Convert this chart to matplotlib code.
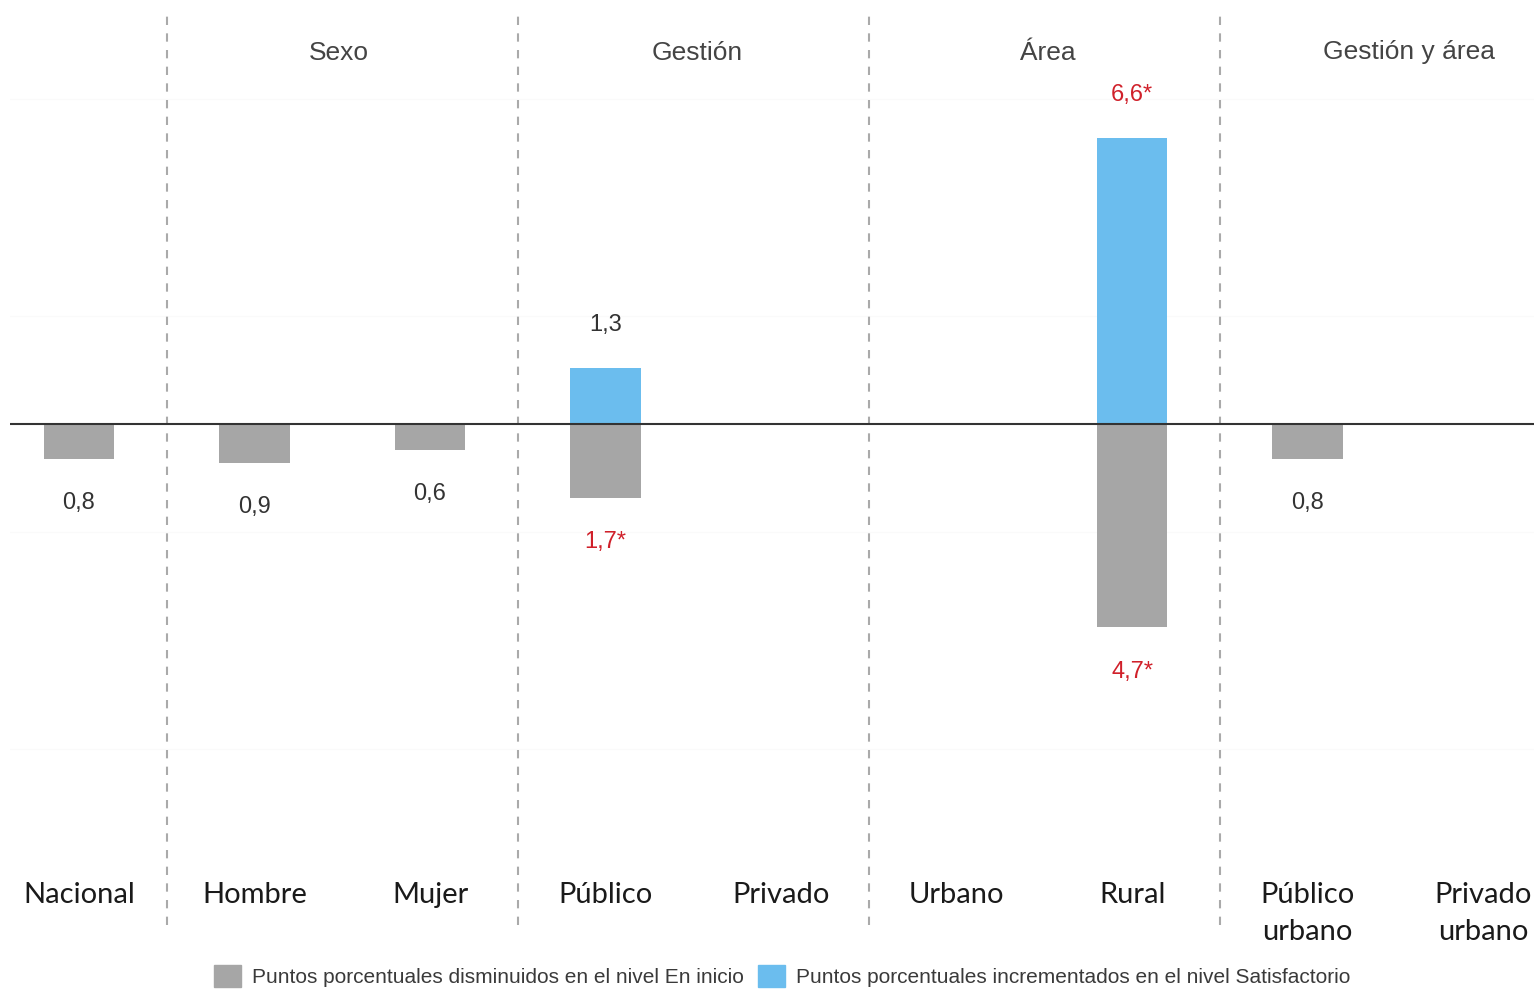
import numpy as np
import matplotlib.pyplot as plt
from matplotlib.patches import Patch

# ---------- data ----------
categories = ["Nacional", "Hombre", "Mujer", "Público", "Privado",
              "Urbano", "Rural", "Público\nurbano", "Privado\nurbano"]
en_inicio = [0.8, 0.9, 0.6, 1.7, np.nan, np.nan, 4.7, 0.8, np.nan]        # points decreased
satisfactorio = [np.nan, np.nan, np.nan, 1.3, np.nan, np.nan, 6.6, np.nan, np.nan]  # points increased
sig_inicio = [False, False, False, True, False, False, True, False, False]
sig_satisf = [False, False, False, False, False, False, True, False, False]
groups = ["Sexo", "Gestión", "Área", "Gestión y área"]
group_centers = [1.48, 3.52, 5.52, 7.58]
separators = [0.5, 2.5, 4.5, 6.5]
legend_labels = ["Puntos porcentuales disminuidos en el nivel En inicio",
                 "Puntos porcentuales incrementados en el nivel Satisfactorio"]

GREY = "#a6a6a6"
BLUE = "#6bbdee"
RED = "#d0202a"
DARK = "#333333"


def fmt(v, sig):
    s = f"{v:.1f}".replace(".", ",")
    return s + "*" if sig else s


# ---------- plotting ----------
fig = plt.figure(figsize=(15.34, 9.89), dpi=100)
ax = fig.add_axes([10 / 1534, 1 - 860 / 989, 1 - 10 / 1534, 850 / 989])

x = np.arange(len(categories))
neg = -np.array(en_inicio)
pos = np.array(satisfactorio)

ax.bar(x, neg, width=0.4, color=GREY, zorder=2)
ax.bar(x, pos, width=0.4, color=BLUE, zorder=2)
ax.axhline(0, color=DARK, lw=1.5, zorder=3)

# faint minor grid
for gy in [-7.5, -2.5, 2.5, 7.5]:
    ax.axhline(gy, color="#fafafa", lw=1, zorder=0)

# value labels
for i in range(len(categories)):
    if not np.isnan(en_inicio[i]):
        ax.annotate(fmt(en_inicio[i], sig_inicio[i]), (x[i], neg[i]),
                    xytext=(0, -32), textcoords="offset points",
                    ha="center", va="center", fontsize=17,
                    family="Liberation Sans",
                    color=RED if sig_inicio[i] else DARK)
    if not np.isnan(satisfactorio[i]):
        ax.annotate(fmt(satisfactorio[i], sig_satisf[i]), (x[i], pos[i]),
                    xytext=(0, 31), textcoords="offset points",
                    ha="center", va="center", fontsize=17,
                    family="Liberation Sans",
                    color=RED if sig_satisf[i] else DARK)

# group separators, running below the axes
for s in separators:
    ax.axvline(s, ymin=-0.077, ymax=1.0, color="#aaaaaa", lw=1.5,
               ls=(0, (4, 4)), clip_on=False, zorder=1)

for g, c in zip(groups, group_centers):
    ax.text(c, 0.95, g, transform=ax.get_xaxis_transform(), ha="center",
            va="center", fontsize=19, family="Liberation Sans", color="#444444")

ax.set_xlim(-0.393, 8.29)
ax.set_ylim(-10.07, 9.56)
ax.set_yticks([])
ax.set_xticks(x)
ax.set_xticklabels(categories, fontsize=21, family="Lato", color="#1a1a1a")
ax.tick_params(axis="x", length=0, pad=16)
for lab in ax.get_xticklabels():
    lab.set_linespacing(1.5)
for sp in ax.spines.values():
    sp.set_visible(False)

handles = [Patch(color=GREY), Patch(color=BLUE)]
leg = fig.legend(handles, legend_labels, loc="center", bbox_to_anchor=(0.51, 0.013),
                 ncol=2, frameon=False, handlelength=1.3, handleheight=1.3,
                 handletextpad=0.55, columnspacing=0.65,
                 prop={"family": "Liberation Sans", "size": 15})
for t in leg.get_texts():
    t.set_color("#3a3a3a")

fig.savefig("out.png", dpi=100)
